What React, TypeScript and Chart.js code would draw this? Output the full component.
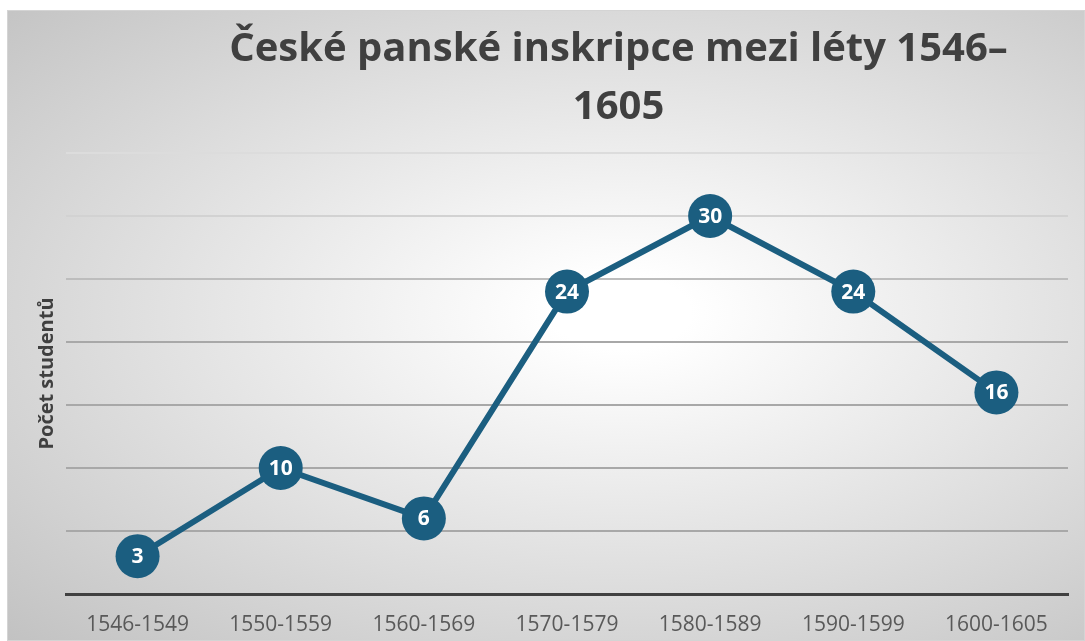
import React, { useEffect, useRef } from "react";
import { Chart, registerables } from "chart.js";

Chart.register(...registerables);

const categories = [
  "1546-1549",
  "1550-1559",
  "1560-1569",
  "1570-1579",
  "1580-1589",
  "1590-1599",
  "1600-1605",
];
const students = [3, 10, 6, 24, 30, 24, 16];
const titleLines = ["České panské inskripce mezi léty 1546–", "1605"];
const yAxisTitle = "Počet studentů";
const yMin = 0;
const yMax = 35;
const yStep = 5;

const SERIES_COLOR = "#1b5e80";

const titlePlugin = {
  id: "customTitle",
  afterDraw(chart: any) {
    const ctx = chart.ctx;
    ctx.save();
    ctx.fillStyle = "#404040";
    ctx.font = "bold 40px 'Open Sans'";
    ctx.textAlign = "center";
    ctx.textBaseline = "alphabetic";
    const cx = chart.width * 0.5674;
    ctx.fillText(titleLines[0], cx, 50);
    ctx.fillText(titleLines[1], cx, 108);
    ctx.restore();
  },
};

const labelPlugin = {
  id: "pointValueLabels",
  afterDatasetsDraw(chart: any) {
    const ctx = chart.ctx;
    const meta = chart.getDatasetMeta(0);
    const data = chart.data.datasets[0].data;
    ctx.save();
    ctx.fillStyle = "#ffffff";
    ctx.font = "bold 21px 'Open Sans'";
    ctx.textAlign = "center";
    ctx.textBaseline = "middle";
    meta.data.forEach((pt: any, i: number) => {
      ctx.fillText(String(data[i]), pt.x, pt.y + 1);
    });
    ctx.restore();
  },
};

export default function App() {
  const canvasRef = useRef<HTMLCanvasElement | null>(null);

  useEffect(() => {
    if (!canvasRef.current) return;
    const chart = new Chart(canvasRef.current, {
      type: "line",
      data: {
        labels: categories,
        datasets: [
          {
            label: yAxisTitle,
            data: students,
            borderColor: SERIES_COLOR,
            backgroundColor: SERIES_COLOR,
            borderWidth: 6,
            pointRadius: 22,
            pointHoverRadius: 22,
            pointBackgroundColor: SERIES_COLOR,
            pointBorderColor: SERIES_COLOR,
            pointBorderWidth: 0,
            tension: 0,
            clip: false as any,
          },
        ],
      },
      options: {
        animation: false,
        responsive: false,
        maintainAspectRatio: false,
        layout: {
          autoPadding: false,
          padding: { top: 142, right: 16, bottom: 0, left: 0 },
        },
        plugins: {
          legend: { display: false },
          title: { display: false },
          tooltip: { enabled: false },
        },
        scales: {
          x: {
            type: "category",
            offset: true,
            grid: { display: false, drawTicks: false },
            border: { display: true, color: "#404040", width: 3 },
            ticks: {
              color: "#595959",
              font: { family: "'Open Sans'", size: 21 },
              padding: 18,
              maxRotation: 0,
              autoSkip: false,
            },
            afterFit: (s: any) => {
              s.height = 46;
              s.paddingLeft = 0;
              s.paddingRight = 0;
            },
          },
          y: {
            min: yMin,
            max: yMax,
            ticks: { display: false, stepSize: yStep },
            border: { display: false },
            grid: {
              drawTicks: false,
              lineWidth: 2,
              color: (c: any) => {
                const v = c.tick ? c.tick.value : 0;
                if (v === 0) return "rgba(0,0,0,0)";
                if (v === 35) return "#dcdcdc";
                if (v === 30) return "#d2d2d2";
                if (v === 25) return "#bdbdbd";
                return "#a8a8a8";
              },
            },
            title: {
              display: true,
              text: yAxisTitle,
              color: "#404040",
              font: { family: "'Open Sans'", size: 20, weight: "bold" },
              padding: { top: 27, bottom: 0 },
            },
            afterFit: (s: any) => {
              s.width = 58;
            },
          },
        },
      },
      plugins: [titlePlugin, labelPlugin],
    });
    return () => chart.destroy();
  }, []);

  return (
    <div
      style={{
        position: "absolute",
        left: 7,
        top: 10,
        width: 1078,
        height: 631,
        boxSizing: "border-box",
        border: "1px solid #d4d4d4",
        background:
          "radial-gradient(ellipse farthest-corner at 57% 48%, #ffffff 0%, #ffffff 8%, #c2c2c2 100%)",
        overflow: "hidden",
      }}
    >
      <canvas
        ref={canvasRef}
        width={1076}
        height={629}
        style={{ display: "block", width: 1076, height: 629 }}
      />
    </div>
  );
}
